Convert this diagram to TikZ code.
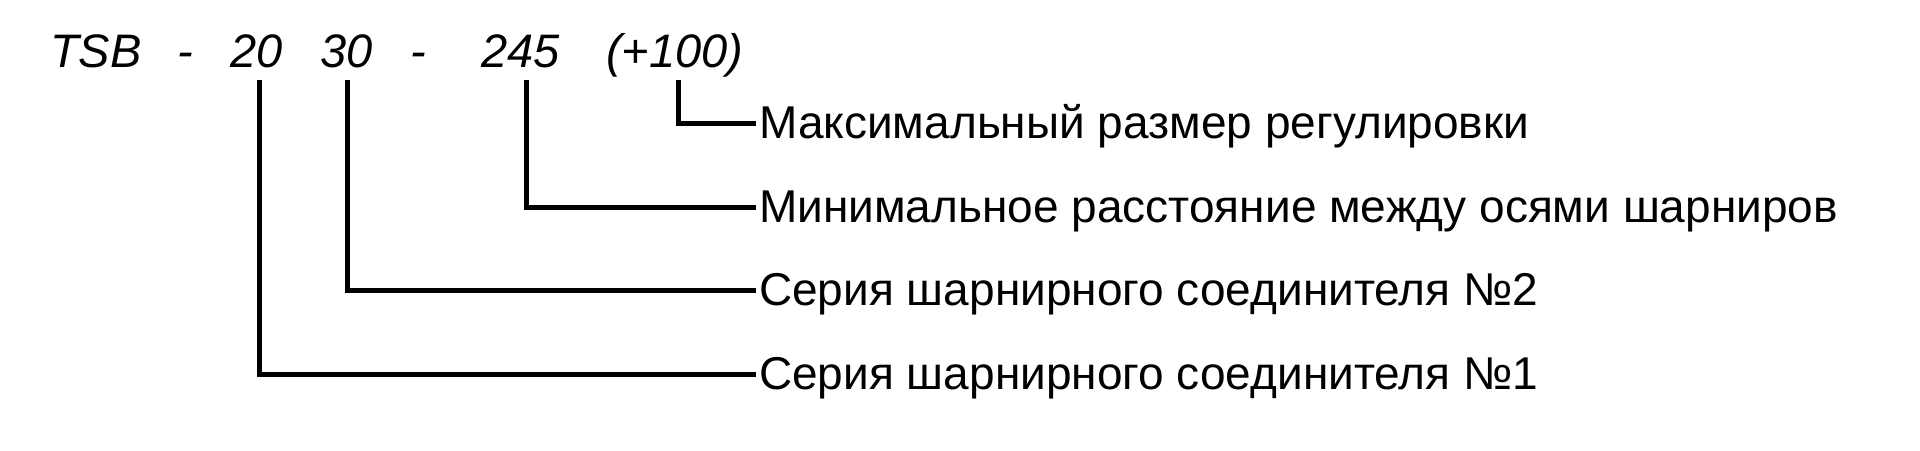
\documentclass[tikz,border=0pt]{standalone}
\usepackage{fontspec}
\setmainfont{Liberation Sans}
\begin{document}
\begin{tikzpicture}[x=1pt,y=-1pt,
  code/.style={inner sep=0pt,anchor=base west,font=\fontsize{47}{56}\selectfont\itshape},
  lab/.style={inner xsep=6pt,inner ysep=0pt,anchor=west,text height=31pt,text depth=0pt,font=\fontsize{46}{55}\selectfont},
  conn/.style={line width=5pt,line join=miter,line cap=rect}]
\useasboundingbox (0,0) rectangle (1920,450);
\node[code] (tsb) at (50,67) {TSB};
\node[code] (d1) at (177,67) {-};
\node[code] (n20) at (230,67) {20};
\node[code] (n30) at (320,67) {30};
\node[code] (d2) at (410,67) {-};
\node[code] (n245) at (481,67) {245};
\node[code] (n100) at (606,67) {(+100)};
\node[lab] (l1) at (753,123) {Максимальный размер регулировки};
\node[lab] (l2) at (753,207) {Минимальное расстояние между осями шарниров};
\node[lab] (l3) at (753,290) {Серия шарнирного соединителя №2};
\node[lab] (l4) at (753,374) {Серия шарнирного соединителя №1};
\coordinate (c20) at (259,82);
\coordinate (c30) at (347,82);
\coordinate (c245) at (526,82);
\coordinate (c100) at (678,82);
\draw[conn] (c100) |- (l1.west);
\draw[conn] (c245) |- (l2.west);
\draw[conn] (c30) |- (l3.west);
\draw[conn] (c20) |- (l4.west);
\end{tikzpicture}
\end{document}
